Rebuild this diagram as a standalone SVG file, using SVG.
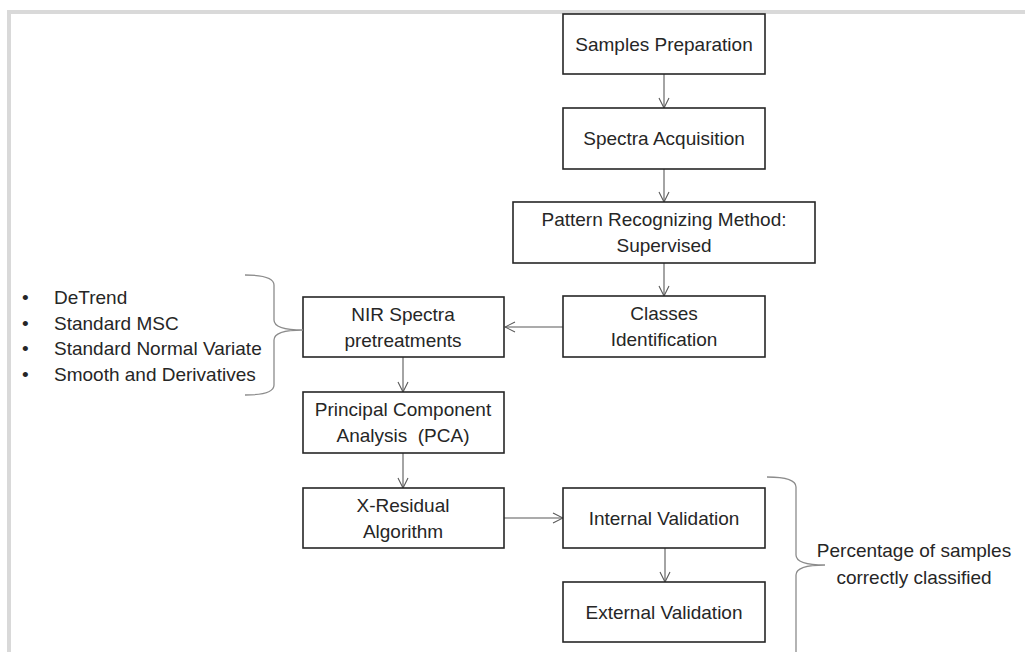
<svg xmlns="http://www.w3.org/2000/svg" width="1025" height="652" viewBox="0 0 1025 652">
<style>
  .box { fill: #ffffff; stroke: #262626; stroke-width: 1.6; }
  .t { font-family: "Liberation Sans", Arial, sans-serif; font-size: 19px; fill: #262626; text-anchor: middle; white-space: pre; }
  .b { font-family: "Liberation Sans", Arial, sans-serif; font-size: 19px; fill: #262626; }
  .edge { stroke: #595959; stroke-width: 1.1; fill: none; marker-end: url(#arr); }
  .brace { stroke: #8c8c8c; stroke-width: 1.3; fill: none; }
</style>
<defs>
  <marker id="arr" viewBox="0 0 12 12" refX="11" refY="6" markerWidth="12" markerHeight="12" markerUnits="userSpaceOnUse" orient="auto">
    <path d="M1,1 L11,6 L1,11" fill="none" stroke="#595959" stroke-width="1.1"/>
  </marker>
</defs>
<rect x="0" y="0" width="1025" height="652" fill="#ffffff"/>
<path d="M9,652 V12 H1025" fill="none" stroke="#d9d9d9" stroke-width="4"/>

<g id="connectors">
  <line class="edge" x1="664" y1="74" x2="664" y2="108"/>
  <line class="edge" x1="664" y1="169" x2="664" y2="202"/>
  <line class="edge" x1="664" y1="263" x2="664" y2="296"/>
  <line class="edge" x1="563" y1="327" x2="505" y2="327"/>
  <line class="edge" x1="403" y1="357" x2="403" y2="392"/>
  <line class="edge" x1="403" y1="453" x2="403" y2="488"/>
  <line class="edge" x1="504" y1="518" x2="563" y2="518"/>
  <line class="edge" x1="665" y1="548" x2="665" y2="582"/>
</g>

<g id="samples">
  <rect class="box" x="563" y="14" width="202" height="60"/>
  <text class="t" x="664" y="51">Samples Preparation</text>
</g>
<g id="spectra">
  <rect class="box" x="563" y="108" width="202" height="61"/>
  <text class="t" x="664" y="145">Spectra Acquisition</text>
</g>
<g id="pattern">
  <rect class="box" x="513" y="202" width="302" height="61"/>
  <text class="t" x="664" y="226">Pattern Recognizing Method:</text>
  <text class="t" x="664" y="252">Supervised</text>
</g>
<g id="classes">
  <rect class="box" x="563" y="296" width="202" height="61"/>
  <text class="t" x="664" y="320">Classes</text>
  <text class="t" x="664" y="346">Identification</text>
</g>
<g id="nir">
  <rect class="box" x="303" y="297" width="201" height="60"/>
  <text class="t" x="403" y="321">NIR Spectra</text>
  <text class="t" x="403" y="347">pretreatments</text>
</g>
<g id="pca">
  <rect class="box" x="303" y="392" width="201" height="61"/>
  <text class="t" x="403" y="416">Principal Component</text>
  <text class="t" x="403" y="442" xml:space="preserve">Analysis  (PCA)</text>
</g>
<g id="xres">
  <rect class="box" x="303" y="488" width="201" height="60"/>
  <text class="t" x="403" y="512">X-Residual</text>
  <text class="t" x="403" y="538">Algorithm</text>
</g>
<g id="internal">
  <rect class="box" x="563" y="488" width="202" height="60"/>
  <text class="t" x="664" y="525">Internal Validation</text>
</g>
<g id="external">
  <rect class="box" x="563" y="582" width="202" height="60"/>
  <text class="t" x="664" y="619">External Validation</text>
</g>

<g id="pretreatments-list">
  <path class="brace" d="M245,275 Q274,275 274,285 V320 Q274,330 303,330 Q274,330 274,340 V385 Q274,395 245,395"/>
  <text class="b" x="22" y="304">•</text>
  <text class="b" x="54" y="304">DeTrend</text>
  <text class="b" x="22" y="330">•</text>
  <text class="b" x="54" y="330">Standard MSC</text>
  <text class="b" x="22" y="355">•</text>
  <text class="b" x="54" y="355">Standard Normal Variate</text>
  <text class="b" x="22" y="381">•</text>
  <text class="b" x="54" y="381">Smooth and Derivatives</text>
</g>

<g id="validation-note">
  <path class="brace" d="M767,477 Q796,477 796,487 V555 Q796,565 825,565 Q796,565 796,575 V660"/>
  <text class="t" x="914" y="557">Percentage of samples</text>
  <text class="t" x="914" y="584">correctly classified</text>
</g>
</svg>
